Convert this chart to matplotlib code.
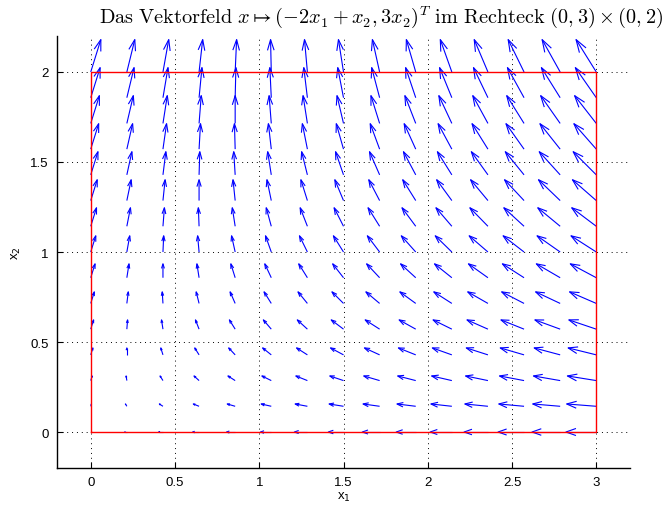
"""Vektorfeld x -> (-2x1 + x2, 3x2)^T im Rechteck (0,3) x (0,2), MATLAB quiver look"""
import numpy as np
import matplotlib
matplotlib.use('Agg')
import matplotlib.pyplot as plt
from matplotlib.collections import LineCollection

# grid points of the quiver plot (15 x 15)
x1_pts = [0.0, 0.2143, 0.4286, 0.6429, 0.8571, 1.0714, 1.2857, 1.5,
          1.7143, 1.9286, 2.1429, 2.3571, 2.5714, 2.7857, 3.0]
x2_pts = [0.0, 0.1429, 0.2857, 0.4286, 0.5714, 0.7143, 0.8571, 1.0,
          1.1429, 1.2857, 1.4286, 1.5714, 1.7143, 1.8571, 2.0]
# field coefficients from the title: u = -2*x1 + x2, v = 3*x2
a11, a12, a22 = -2.0, 1.0, 3.0
rect_x = [0, 3, 3, 0, 0]
rect_y = [0, 0, 2, 2, 0]
xticks = [0, 0.5, 1, 1.5, 2, 2.5, 3]
yticks = [0, 0.5, 1, 1.5, 2]

X, Y = np.meshgrid(x1_pts, x2_pts)
U = a11 * X + a12 * Y
V = a22 * Y

# MATLAB style autoscale
n = np.sqrt(X.size)
delx = (X.max() - X.min()) / n
dely = (Y.max() - Y.min()) / n
maxlen = np.sqrt((U**2 + V**2) / (delx**2 + dely**2)).max()
s = 0.9 / maxlen
u = (U * s).ravel()
v = (V * s).ravel()
x = X.ravel()
y = Y.ravel()

alpha, beta = 0.33, 0.33
eps = 1e-12
segs = []
for xi, yi, ui, vi in zip(x, y, u, v):
    segs.append([(xi, yi), (xi + ui, yi + vi)])
    segs.append([(xi + ui - alpha * (ui + beta * (vi + eps)), yi + vi - alpha * (vi - beta * (ui + eps))),
                 (xi + ui, yi + vi),
                 (xi + ui - alpha * (ui - beta * (vi + eps)), yi + vi - alpha * (vi + beta * (ui + eps)))])

fig = plt.figure(figsize=(6.67, 5.06), dpi=100)
ax = fig.add_axes([0.0855, 0.0731, 0.859, 0.8538])

ax.add_collection(LineCollection(segs, colors='#0000ff', linewidths=0.8, zorder=3))
ax.plot(rect_x, rect_y, color='#ff0000', lw=1.0, zorder=4)

ax.set_xlim(-0.2, 3.2)
ax.set_ylim(-0.2, 2.2)
ax.set_xticks(xticks)
ax.set_yticks(yticks)
ax.set_xticklabels(['0', '0.5', '1', '1.5', '2', '2.5', '3'])
ax.set_yticklabels(['0', '0.5', '1', '1.5', '2'])
ax.grid(True, color='black', linestyle=(0, (1, 4)), linewidth=0.7)
ax.set_axisbelow(True)
for sp in ['top', 'right']:
    ax.spines[sp].set_visible(False)
ax.spines['left'].set_linewidth(1.0)
ax.spines['bottom'].set_linewidth(1.0)
ax.tick_params(direction='in', length=4, labelsize=9.5, pad=6)
for lab in ax.get_xticklabels() + ax.get_yticklabels():
    lab.set_family('Liberation Sans')

ax.set_xlabel(r'x$_1$', fontsize=9.5, labelpad=1, family='Liberation Sans', math_fontfamily='dejavusans')
ax.set_ylabel(r'x$_2$', fontsize=9.5, labelpad=5, family='Liberation Sans', math_fontfamily='dejavusans')

fig.text(381 / 667, 1 - 17 / 506,
         r'$\mathrm{Das\ Vektorfeld}\ x \mapsto (-2x_1 + x_2, 3x_2)^T\ \mathrm{im\ Rechteck}\ (0,3)\times(0,2)$',
         ha='center', va='center', fontsize=14.6, math_fontfamily='cm')

fig.savefig('out.png', dpi=100)
